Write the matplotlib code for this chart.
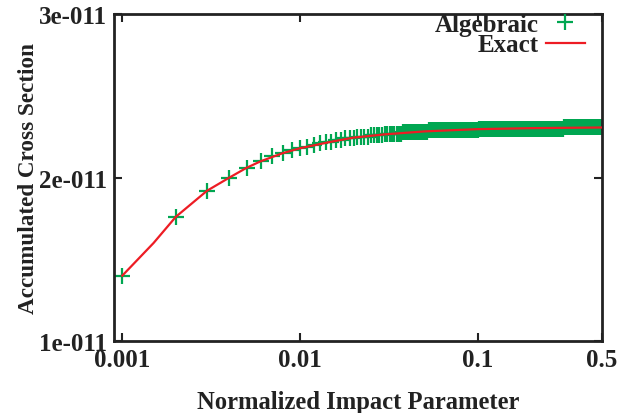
import matplotlib
matplotlib.use('AGG')
import matplotlib.pyplot as plt
import numpy as np
from matplotlib.ticker import FixedLocator, NullLocator

# Algebraic samples (x grid and values, units of 1e-11)
alg_x = np.concatenate([
    np.arange(1, 81) * 0.001,          # 0.001 .. 0.080
    np.arange(41, 61) * 0.002,         # 0.082 .. 0.120
    np.arange(123, 199, 3) * 0.001,    # 0.123 .. 0.198
    np.arange(40, 101) * 0.005,        # 0.200 .. 0.500
])
alg_y = [
    1.40, 1.76, 1.92, 2.00, 2.06, 2.10, 2.13, 2.15, 2.17, 2.18,
    2.19, 2.20, 2.21, 2.22, 2.22, 2.23, 2.23, 2.24, 2.24, 2.24,
    2.25, 2.25, 2.25, 2.25, 2.26, 2.26, 2.26, 2.26, 2.26, 2.27,
    2.27, 2.27, 2.27, 2.27, 2.27, 2.27, 2.27, 2.28, 2.28, 2.28,
    2.28, 2.28, 2.28, 2.28, 2.28, 2.28, 2.28, 2.28, 2.28, 2.28,
    2.28, 2.28, 2.29, 2.29, 2.29, 2.29, 2.29, 2.29, 2.29, 2.29,
    2.29, 2.29, 2.29, 2.29, 2.29, 2.29, 2.29, 2.29, 2.29, 2.29,
    2.29, 2.29, 2.29, 2.29, 2.29, 2.29, 2.29, 2.29, 2.29, 2.29,
    # 0.082 .. 0.120
    2.29, 2.29, 2.29, 2.29, 2.29, 2.29, 2.29, 2.29, 2.29, 2.29,
    2.30, 2.30, 2.30, 2.30, 2.30, 2.30, 2.30, 2.30, 2.30, 2.30,
    # 0.123 .. 0.198
    2.30, 2.30, 2.30, 2.30, 2.30, 2.30, 2.30, 2.30, 2.30, 2.30,
    2.30, 2.30, 2.30, 2.30, 2.30, 2.30, 2.30, 2.30, 2.30, 2.30,
    2.30, 2.30, 2.30, 2.30, 2.30, 2.30,
    # 0.200 .. 0.500
    2.30,
    2.30, 2.30, 2.30, 2.30, 2.30, 2.30, 2.30, 2.30, 2.30, 2.30,
    2.30, 2.30, 2.30, 2.30, 2.30, 2.30, 2.30, 2.30, 2.30, 2.30,
    2.31, 2.31, 2.31, 2.31, 2.31, 2.31, 2.31, 2.31, 2.31, 2.31,
    2.31, 2.31, 2.31, 2.31, 2.31, 2.31, 2.31, 2.31, 2.31, 2.31,
    2.31, 2.31, 2.31, 2.31, 2.31, 2.31, 2.31, 2.31, 2.31, 2.31,
    2.31, 2.31, 2.31, 2.31, 2.31, 2.31, 2.31, 2.31, 2.31, 2.31,
]

# Exact curve
exact_x = [0.001, 0.0015, 0.002, 0.003, 0.004, 0.005, 0.006, 0.008, 0.01,
           0.015, 0.02, 0.03, 0.05, 0.07, 0.1, 0.2, 0.3, 0.5]
exact_y = [1.40, 1.60, 1.76, 1.92, 2.00, 2.06, 2.10, 2.15, 2.18,
           2.22, 2.245, 2.265, 2.283, 2.29, 2.297, 2.303, 2.305, 2.307]

x_ticks = [0.001, 0.01, 0.1, 0.5]
x_ticklabels = ['0.001', '0.01', '0.1', '0.5']
y_ticks = [1e-11, 2e-11, 3e-11]
y_ticklabels = ['1e-011', '2e-011', '3e-011']

plt.rcParams['font.family'] = ['Liberation Serif', 'DejaVu Serif']
plt.rcParams['font.weight'] = 'bold'

fig = plt.figure(figsize=(6.39, 4.14), dpi=100)
ax = fig.add_axes([0.178, 0.174, 0.764, 0.789])

green = '#00a651'
red = '#ed1c24'
ink = '#222222'

ax.plot(alg_x, np.array(alg_y) * 1e-11, linestyle='none', marker='+',
        markersize=11, markeredgewidth=1.6, color=green, label='Algebraic', zorder=2)
ax.plot(exact_x, np.array(exact_y) * 1e-11, color=red, linewidth=1.6,
        label='Exact', zorder=3)

ax.set_xscale('log')
ax.set_xlim(0.000895, 0.5)
ax.set_ylim(1e-11, 3e-11)
ax.xaxis.set_major_locator(FixedLocator(x_ticks))
ax.xaxis.set_minor_locator(NullLocator())
ax.set_xticklabels(x_ticklabels)
ax.set_yticks(y_ticks)
ax.set_yticklabels(y_ticklabels)

ax.tick_params(which='both', direction='in', top=True, right=True,
               length=6, width=1.5, labelsize=18, pad=5, colors=ink)
for s in ax.spines.values():
    s.set_linewidth(2)
    s.set_color(ink)

ax.set_xlabel('Normalized Impact Parameter', fontsize=17.7, fontweight='bold',
              labelpad=14, color=ink)
ax.set_ylabel('Accumulated Cross Section', fontsize=16.7, fontweight='bold',
              labelpad=0, color=ink)

ax.legend(loc='upper right', bbox_to_anchor=(0.985, 1.035), frameon=False,
          markerfirst=False, fontsize=18, handlelength=1.55, handletextpad=0.3,
          labelspacing=-0.1, borderaxespad=0, labelcolor=ink)

fig.savefig('out.png', dpi=100)
